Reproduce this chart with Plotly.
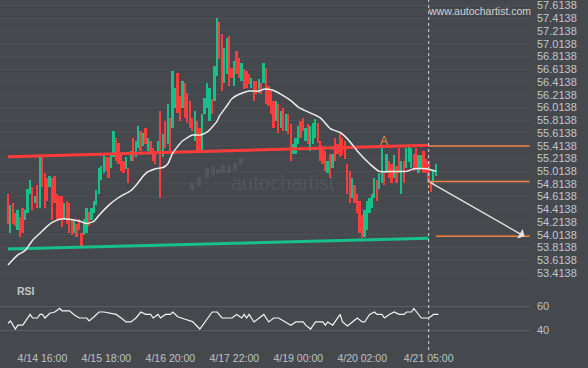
import plotly.graph_objects as go

# ---------------- data ----------------
highs = [
    54.66, 54.48, 54.52, 54.35, 54.40, 54.29, 54.43, 54.40, 54.74, 54.87,
    54.76, 54.63, 54.79, 55.26, 55.26, 54.98, 54.91, 54.94, 54.90, 54.94,
    54.66, 54.63, 54.63, 54.51, 54.55, 54.51, 54.24, 54.24, 54.19, 54.27,
    54.04, 54.27, 54.44, 54.37, 54.44, 54.55, 54.71, 55.07, 55.10, 55.26,
    55.23, 55.23, 55.26, 55.65, 55.54, 55.46, 55.29, 55.18, 55.23, 55.07,
    55.33, 55.54, 55.49, 55.73, 55.65, 55.62, 55.69, 55.54, 55.49, 55.37,
    55.33, 55.49, 55.96, 55.60, 55.80, 56.07, 55.85, 56.58, 56.32, 56.55,
    56.19, 56.43, 56.40, 56.24, 56.12, 55.85, 55.96, 55.80, 55.69, 55.91,
    56.16, 56.40, 56.32, 56.15, 56.66, 57.41, 57.36, 57.16, 56.94, 57.10,
    57.13, 56.63, 56.74, 56.90, 56.79, 56.71, 56.61, 56.58, 56.54, 56.47,
    56.43, 56.43, 56.46, 56.40, 56.71, 56.63, 56.35, 56.27, 56.12, 56.12,
    56.07, 55.96, 56.00, 55.91, 55.91, 55.76, 55.44, 55.54, 55.73, 55.80,
    55.85, 55.69, 55.76, 55.73, 55.77, 55.83, 55.77, 55.49, 55.41, 55.33,
    55.18, 55.29, 55.29, 55.54, 55.44, 55.60, 55.54, 55.49, 55.13, 55.02,
    54.90, 54.79, 54.66, 54.55, 54.32, 54.40, 54.55, 54.60, 54.66, 54.91,
    54.87, 54.98, 55.38, 54.99, 55.29, 55.18, 55.13, 55.26, 55.10, 55.37,
    55.18, 55.18, 55.38, 55.41, 55.37, 55.29, 55.38, 55.26, 55.26, 55.33,
    55.21, 55.18, 54.83, 55.02, 55.13,
]
lows = [
    54.19, 54.05, 54.19, 54.16, 54.09, 53.98, 54.05, 54.24, 54.35, 54.66,
    54.40, 54.51, 54.43, 54.44, 54.76, 54.44, 54.55, 54.76, 54.24, 54.51,
    54.24, 54.27, 54.13, 54.24, 54.19, 54.04, 54.01, 54.04, 53.98, 54.09,
    53.82, 54.01, 54.04, 54.16, 54.24, 54.35, 54.48, 54.66, 54.87, 54.98,
    55.02, 54.91, 55.07, 55.23, 55.18, 55.13, 55.02, 54.98, 55.05, 54.82,
    55.18, 55.18, 55.23, 55.38, 55.33, 55.41, 55.44, 55.33, 55.29, 55.18,
    55.13, 55.29, 54.60, 55.23, 55.38, 55.44, 55.29, 55.69, 56.00, 55.93,
    55.80, 56.00, 55.85, 55.77, 55.69, 55.65, 55.49, 55.33, 55.33, 55.33,
    55.91, 56.00, 55.80, 55.91, 56.12, 56.50, 56.77, 56.27, 56.40, 56.54,
    56.35, 56.47, 56.35, 56.54, 56.47, 56.43, 56.30, 56.32, 56.38, 56.32,
    56.12, 56.22, 56.24, 56.22, 56.40, 56.07, 56.04, 55.91, 55.69, 55.80,
    55.62, 55.69, 55.65, 55.65, 55.60, 55.18, 55.29, 55.29, 55.44, 55.54,
    55.65, 55.49, 55.44, 55.33, 55.44, 55.54, 55.46, 55.18, 55.13, 55.02,
    54.98, 54.90, 55.07, 55.18, 55.29, 55.23, 55.26, 55.21, 54.66, 54.51,
    54.60, 54.51, 54.35, 54.05, 53.96, 53.98, 54.09, 54.35, 54.44, 54.60,
    54.55, 54.74, 54.82, 54.79, 54.99, 54.91, 54.82, 54.90, 54.83, 54.98,
    54.66, 54.83, 55.07, 55.15, 55.07, 55.02, 55.07, 54.99, 55.05, 54.99,
    54.99, 54.83, 54.68, 54.82, 54.94,
]
# candle direction: G = up (green), R = down (red)
directions = (
    "RGRRGRRGGG" "RGRGRRRGRR" "RRRGRRRGRR" "RGGRGGGGGG" "RRGGRRRRGR"
    "GRGGRGRGRR" "RGRGRGRGGR" "RGRRRRGRRG" "GGGRGGRRGG" "RRGRRGRRRG"
    "RRGRGRRRRG" "RGRGRRGGGR" "RGRGGGRRRR" "GRGRRRRRRR" "GRRRRGGGGG"
    "RGGRGRRGRR" "GRGGGRRGGR" "RRRGG"
)

ma_idx = [0, 4, 7, 10, 13, 16, 18, 21, 25, 29, 32, 35, 37, 41, 45, 50, 52, 56, 60, 63,
          65, 67, 71, 75, 78, 81, 85, 86, 89, 91, 94, 98, 102, 104, 107, 111, 115, 118,
          121, 127, 131, 135, 138, 141, 142, 147, 151, 156, 162, 165, 170, 174]
ma_val = [53.54, 53.70, 53.77, 53.93, 54.04, 54.15, 54.21, 54.26, 54.26, 54.23, 54.19,
          54.23, 54.32, 54.48, 54.60, 54.71, 54.79, 54.98, 55.05, 55.07, 55.13, 55.30,
          55.49, 55.58, 55.58, 55.63, 55.80, 55.88, 56.04, 56.15, 56.22, 56.27, 56.27,
          56.30, 56.29, 56.22, 56.12, 56.02, 55.96, 55.85, 55.68, 55.62, 55.52, 55.38,
          55.33, 55.13, 55.01, 55.01, 55.01, 55.05, 55.05, 55.01]

rsi_idx = [0, 1, 3, 4, 6, 9, 10, 12, 13, 14, 15, 17, 19, 21, 22, 25, 27, 29, 32, 33,
           35, 37, 39, 41, 44, 46, 48, 50, 52, 54, 56, 58, 59, 61, 62, 64, 66, 67, 69,
           72, 74, 75, 78, 80, 82, 83, 85, 87, 91, 93, 95, 96, 97, 98, 100, 104, 106,
           108, 110, 113, 115, 117, 120, 121, 123, 125, 128, 129, 130, 132, 133, 135,
           136, 138, 140, 142, 144, 145, 147, 149, 150, 152, 153, 155, 157, 159, 161,
           162, 164, 165, 168, 170, 171, 173, 175]
rsi_val = [45.6, 47.5, 40.8, 44, 44, 53, 50, 50, 53, 53, 50, 54, 55, 58, 56, 56, 52.5,
           50, 50, 47.5, 51, 55, 55, 54, 53, 50, 46.7, 46.7, 50, 55, 53, 53, 50, 53, 50,
           53, 53, 55, 51, 49, 47.5, 47, 40.8, 46.7, 53, 55, 55, 50, 50, 53, 50, 53, 50,
           53, 46.7, 53, 46.7, 50, 50, 46.7, 44, 46.7, 46.7, 44, 40.8, 46.7, 46.7, 44,
           46.7, 44, 46.7, 53, 46.7, 43.3, 46.7, 50, 46.7, 46.7, 53, 55, 53, 53, 50, 53,
           55, 53, 53, 55, 55, 58, 50, 50, 50, 53, 53]

resist_idx = [0, 171]
resist_val = [55.24, 55.42]
support_idx = [0, 171]
support_val = [53.79, 53.96]
level_idx = [171, 212]
level_top = 55.41
level_break = 54.85
target_idx = [174, 212]
target_val = 53.99
arrow_from = (171, 54.85)
arrow_to = (210, 53.99)
pattern_point = (153, 55.49)
now_idx = 171

price_ticks = [53.4138, 53.6138, 53.8138, 54.0138, 54.2138, 54.4138, 54.6138, 54.8138,
               55.0138, 55.2138, 55.4138, 55.6138, 55.8138, 56.0138, 56.2138, 56.4138,
               56.6138, 56.8138, 57.0138, 57.2138, 57.4138, 57.6138]
rsi_ticks = [40, 60]
x_tick_idx = [14, 40, 66, 92, 118, 144, 171]
x_tick_text = ["4/14 16:00", "4/15 18:00", "4/16 20:00", "4/17 22:00",
               "4/19 00:00", "4/20 02:00", "4/21 05:00"]

# ---------------- styling ----------------
BG = "#45494e"
GREEN = "#17c088"
RED = "#ff3c3c"
ORANGE = "#f5823f"
TXT = "#c3c6c9"
FONT = "Liberation Sans, Arial, sans-serif"
W, H = 588, 368
PLOT_W = 530
PLOT_H = 348


def px(x):
    return x / PLOT_W


def py(y):
    return 1 - y / PLOT_H


idx = list(range(len(highs)))
spans = [hi - lo for hi, lo in zip(highs, lows)]
colors = [GREEN if d == "G" else RED for d in directions]

fig = go.Figure()

# thin candles: each candle drawn from its low to its high
fig.add_trace(go.Bar(
    x=idx, y=spans, base=lows, width=0.72, xaxis="x2", yaxis="y",
    marker=dict(color=colors, line=dict(width=0)),
    showlegend=False, hoverinfo="skip",
))

fig.add_trace(go.Scatter(x=resist_idx, y=resist_val, mode="lines", xaxis="x2", yaxis="y",
                         line=dict(color=RED, width=3), showlegend=False, hoverinfo="skip"))
fig.add_trace(go.Scatter(x=support_idx, y=support_val, mode="lines", xaxis="x2", yaxis="y",
                         line=dict(color=GREEN, width=3), showlegend=False, hoverinfo="skip"))
fig.add_trace(go.Scatter(x=ma_idx, y=ma_val, mode="lines", xaxis="x2", yaxis="y",
                         line=dict(color="#ececec", width=1.5, shape="spline", smoothing=0.6),
                         showlegend=False, hoverinfo="skip"))
for val, xs in [(level_top, level_idx), (level_break, level_idx), (target_val, target_idx)]:
    fig.add_trace(go.Scatter(x=xs, y=[val, val], mode="lines", xaxis="x2", yaxis="y",
                             line=dict(color=ORANGE, width=1.5), showlegend=False,
                             hoverinfo="skip"))

fig.add_trace(go.Scatter(x=rsi_idx, y=rsi_val, mode="lines", xaxis="x", yaxis="y2",
                         line=dict(color="#f2f2f2", width=1.2), showlegend=False,
                         hoverinfo="skip"))

shapes = [
    dict(type="line", xref="x", yref="paper", x0=now_idx, x1=now_idx, y0=py(350), y1=1,
         line=dict(color="#d2d4d6", width=1, dash="3px,3px")),
]
# watermark logo bars
logo = [(192, 183, 190), (199, 177, 186), (207, 168, 178), (213, 166, 175), (218, 169, 174),
        (223, 165, 173), (229, 166, 173), (235, 163, 170), (241, 158, 165)]
for (bx, t, b) in logo:
    shapes.append(dict(type="line", xref="paper", yref="paper", x0=px(bx), x1=px(bx),
                       y0=py(b), y1=py(t), line=dict(color="rgba(255,255,255,0.07)", width=4)))

annotations = [
    dict(x=arrow_to[0], y=arrow_to[1], ax=arrow_from[0], ay=arrow_from[1],
         xref="x2", yref="y", axref="x2", ayref="y", text="", showarrow=True,
         arrowhead=1, arrowsize=1.4, arrowwidth=1.3, arrowcolor="#e6e6e6", standoff=0),
    dict(x=pattern_point[0], y=pattern_point[1], xref="x2", yref="y", text="A",
         showarrow=False, font=dict(family=FONT, size=12, color=ORANGE)),
    dict(x=px(426), y=py(11), xref="paper", yref="paper", text="www.autochartist.com",
         showarrow=False, xanchor="left", yanchor="middle",
         font=dict(family=FONT, size=10.5, color="#cfd1d3")),
    dict(x=px(15), y=py(291), xref="paper", yref="paper", text="<b>RSI</b>",
         showarrow=False, xanchor="left", yanchor="middle",
         font=dict(family=FONT, size=10.5, color=TXT)),
    dict(x=px(283), y=py(183), xref="paper", yref="paper", text="autochartist",
         showarrow=False, xanchor="center", yanchor="middle",
         font=dict(family=FONT, size=20, color="rgba(255,255,255,0.08)")),
]

x_range = [-3.25, 212.2]
fig.update_layout(
    width=W, height=H,
    margin=dict(l=0, r=W - PLOT_W, t=0, b=H - PLOT_H),
    paper_bgcolor=BG, plot_bgcolor=BG,
    font=dict(family=FONT, size=11, color=TXT),
    showlegend=False, bargap=0,
    xaxis=dict(domain=[0, 1], anchor="y2", range=x_range, tickvals=x_tick_idx,
               ticktext=x_tick_text, showgrid=False, zeroline=False, showline=False,
               ticks="", tickfont=dict(size=10.5, color="#bfc2c5"), automargin=False,
               ticklabelstandoff=2),
    xaxis2=dict(domain=[0, 1], anchor="y", matches="x", range=x_range, showticklabels=False,
                showgrid=False, zeroline=False, showline=False, ticks="", automargin=False),
    yaxis=dict(domain=[py(280), 1], anchor="x2", side="right", range=[53.305, 57.70],
               tickvals=price_ticks, ticktext=["%.4f" % v for v in price_ticks],
               showgrid=True, gridcolor="rgba(255,255,255,0.035)", gridwidth=1,
               zeroline=False, showline=False, ticks="", ticklabelstandoff=6,
               ticklabeloverflow="allow",
               tickfont=dict(size=11, color=TXT), automargin=False),
    yaxis2=dict(domain=[0, py(282)], anchor="x", side="right", range=[25, 80],
                tickvals=rsi_ticks, ticktext=[str(v) for v in rsi_ticks],
                showgrid=True, gridcolor="#5a5e62", gridwidth=1, zeroline=False,
                showline=False, ticks="", ticklabelstandoff=6,
                tickfont=dict(size=11, color="#bfc2c5"), automargin=False),
    shapes=shapes,
    annotations=annotations,
)

fig.write_html("out.html")
